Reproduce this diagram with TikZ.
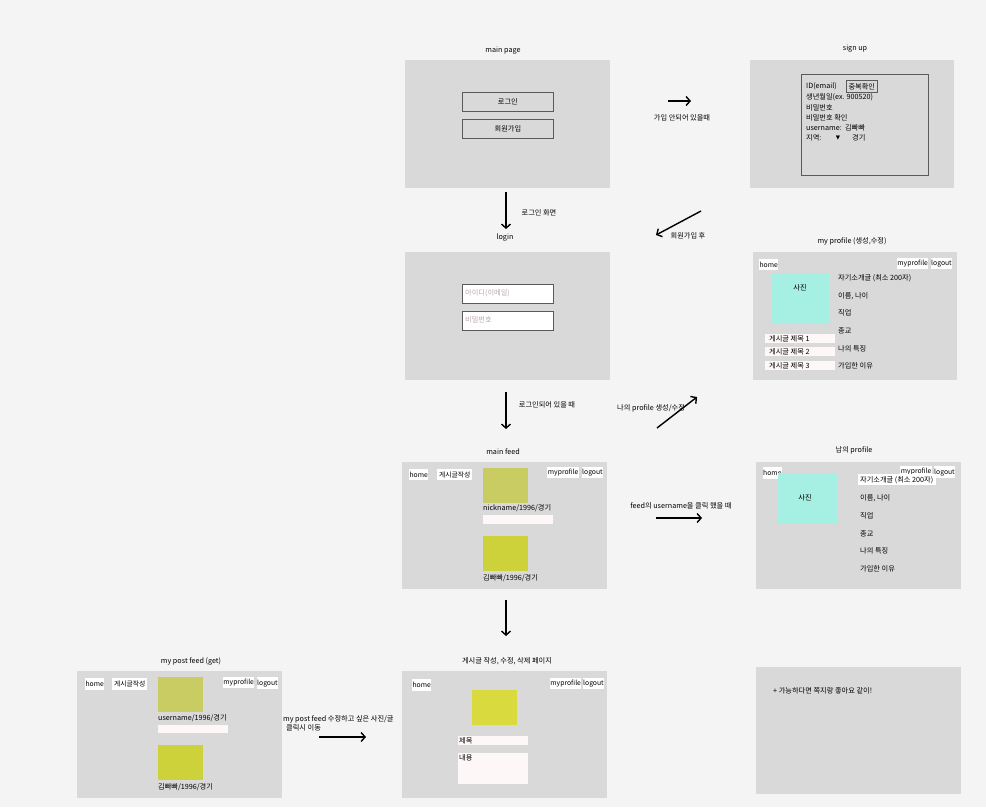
\documentclass[tikz,border=0pt]{standalone}
\usepackage{fontspec}
\setmainfont{Noto Sans CJK KR}
\usetikzlibrary{arrows.meta}
\definecolor{bgc}{HTML}{F4F4F4}
\definecolor{panelc}{HTML}{D9D9D9}
\definecolor{pinkc}{HTML}{FDF7F7}
\definecolor{mintc}{HTML}{A6F0E3}
\definecolor{olivec}{HTML}{C9CC63}
\definecolor{limec}{HTML}{CDD13A}
\definecolor{yellowc}{HTML}{D9DA3E}
\definecolor{edgec}{HTML}{5A5A5A}
\definecolor{phc}{HTML}{BBA8A8}
\tikzset{
  panel/.style={fill=panelc, draw=none, inner sep=0pt, anchor=north west},
  wbox/.style={fill=white, draw=none, inner sep=0pt, anchor=north west, text=black, font=\fontsize{6.8}{8}\selectfont},
  pbox/.style={fill=pinkc, draw=none, inner sep=0pt, anchor=north west},
  btn/.style={fill=panelc, draw=edgec, line width=0.8pt, inner sep=0pt, anchor=north west, minimum width=91, minimum height=19},
  field/.style={fill=white, draw=edgec, line width=0.8pt, inner sep=0pt, anchor=north west, minimum width=91, minimum height=19},
  img/.style={draw=none, inner sep=0pt, anchor=north west},
  lbl/.style={inner sep=0pt, text=black},
  ltxt/.style={inner sep=0pt, anchor=west, text=black},
  arr/.style={-{Straight Barb[length=4pt,width=9pt]}, line width=1.4pt, black},
}
\begin{document}
\begin{tikzpicture}[x=1pt,y=-1pt,font=\fontsize{7.2}{8.5}\selectfont]
\fill[bgc] (0,0) rectangle (986,807);
\useasboundingbox (0,0) rectangle (986,807);

% ===== main page =====
\node[lbl] (tmp) at (503,51) {main page};
\node[panel, minimum width=205, minimum height=128] (mp) at (405,60) {};
\node[btn] (bLogin) at (462,92) {로그인};
\node[btn] (bJoin) at (462,119) {회원가입};

% ===== sign up =====
\node[lbl] (tsu) at (855,49) {sign up};
\node[panel, minimum width=204, minimum height=128] (su) at (750,60) {};
\node[fill=panelc, draw=edgec, line width=0.8pt, inner sep=0pt, anchor=north west, minimum width=127, minimum height=101] (suf) at (801,74) {};
\node[ltxt] (s1) at (806,86) {ID(email)};
\node[fill=panelc, draw=edgec, line width=0.7pt, inner sep=0pt, anchor=north west, minimum width=31, minimum height=12] (dup) at (846,80) {중복확인};
\node[ltxt] (s2) at (806,97.5) {생년월일(ex. 900520)};
\node[ltxt] (s3) at (806,108) {비밀번호};
\node[ltxt] (s4) at (806,118) {비밀번호 확인};
\node[ltxt] (s5) at (806,128) {username:\ \ 김빠빠};
\node[ltxt] (s6) at (806,138) {지역:};
\node[lbl, font=\fontspec{DejaVu Sans}\fontsize{5.5}{7}\selectfont] (s7) at (838,138.5) {▼};
\node[ltxt] (s8) at (852,138) {경기};

% ===== login =====
\node[lbl] (tlg) at (505,238) {login};
\node[panel, minimum width=205, minimum height=128] (lg) at (405,252) {};
\node[field] (fid) at (462,284) {};
\node[ltxt, text=phc] (fidt) at (465,293.5) {아이디(이메일)};
\node[field] (fpw) at (462,311) {};
\node[ltxt, text=phc] (fpwt) at (465,320) {비밀번호};

% ===== my profile =====
\node[lbl] (tpf) at (852,241) {my profile (생성,수정)};
\node[panel, minimum width=204, minimum height=128] (pf) at (753,252) {};
\node[wbox, minimum width=19, minimum height=11] (pfh) at (759,259) {home};
\node[wbox, minimum width=31, minimum height=11] (pfm) at (897,258) {myprofile};
\node[wbox, minimum width=19, minimum height=11] (pfl) at (931,258) {logout};
\node[img, fill=mintc, minimum width=57, minimum height=51] (pfp) at (772,273) {};
\node[lbl] (pfpt) at (800,288) {사진};
\node[ltxt] (pf1) at (838,278) {자기소개글 (최소 200자)};
\node[ltxt] (pf2) at (838,296) {이름, 나이};
\node[ltxt] (pf3) at (838,313) {직업};
\node[ltxt] (pf4) at (838,331) {종교};
\node[ltxt] (pf5) at (838,348.5) {나의 특징};
\node[ltxt] (pf6) at (838,366) {가입한 이유};
\node[pbox, minimum width=70, minimum height=9] (pft1) at (765,334) {};
\node[ltxt] (pft1t) at (769,338.5) {게시글 제목 1};
\node[pbox, minimum width=70, minimum height=9] (pft2) at (765,347) {};
\node[ltxt] (pft2t) at (769,351.5) {게시글 제목 2};
\node[pbox, minimum width=70, minimum height=9] (pft3) at (765,361) {};
\node[ltxt] (pft3t) at (769,365.5) {게시글 제목 3};

% ===== main feed =====
\node[lbl] (tmf) at (503,452) {main feed};
\node[panel, minimum width=205, minimum height=127] (mf) at (402,462) {};
\node[wbox, minimum width=19, minimum height=11] (mfh) at (409,469) {home};
\node[wbox, minimum width=35, minimum height=11] (mfw) at (437,469) {게시글작성};
\node[img, fill=olivec, minimum width=45, minimum height=35] (mfi1) at (483,468) {};
\node[wbox, minimum width=32, minimum height=11] (mfm) at (547,467) {myprofile};
\node[wbox, minimum width=19, minimum height=11] (mfl) at (582,467) {logout};
\node[ltxt] (mfn1) at (483,508) {nickname/1996/경기};
\node[pbox, minimum width=70, minimum height=9] (mfb) at (483,515) {};
\node[img, fill=limec, minimum width=45, minimum height=35] (mfi2) at (483,536) {};
\node[ltxt] (mfn2) at (483,578) {김빠빠/1996/경기};

% ===== other profile =====
\node[lbl] (top) at (854,450) {남의 profile};
\node[panel, minimum width=205, minimum height=127] (op) at (756,462) {};
\node[wbox, minimum width=18, minimum height=12] (oph) at (763,467) {home};
\node[wbox, minimum width=32, minimum height=10] (opm) at (900,466) {myprofile};
\node[wbox, minimum width=19, minimum height=12] (opl) at (934,466) {logout};
\node[img, fill=mintc, minimum width=59, minimum height=51] (opp) at (778,473) {};
\node[lbl] (oppt) at (805,498) {사진};
\node[wbox, minimum width=78, minimum height=11] (op1b) at (858,474) {};
\node[ltxt] (op1) at (860,480) {자기소개글 (최소 200자)};
\node[ltxt] (op2) at (860,498) {이름, 나이};
\node[ltxt] (op3) at (860,516) {직업};
\node[ltxt] (op4) at (860,533.5) {종교};
\node[ltxt] (op5) at (860,551) {나의 특징};
\node[ltxt] (op6) at (860,568.5) {가입한 이유};

% ===== post edit page =====
\node[lbl] (ted) at (507,661) {게시글 작성, 수정, 삭제 페이지};
\node[panel, minimum width=205, minimum height=127] (ed) at (402,671) {};
\node[wbox, minimum width=19, minimum height=12] (edh) at (412,679) {home};
\node[wbox, minimum width=31, minimum height=11] (edm) at (550,678) {myprofile};
\node[wbox, minimum width=19, minimum height=11] (edl) at (583,678) {logout};
\node[img, fill=yellowc, minimum width=45, minimum height=35] (edi) at (472,690) {};
\node[pbox, minimum width=70, minimum height=9] (edt) at (458,736) {};
\node[ltxt] (edtt) at (459,740.5) {제목};
\node[pbox, minimum width=70, minimum height=31] (edc) at (458,753) {};
\node[ltxt] (edct) at (459,758) {내용};

% ===== my post feed =====
\node[lbl] (tpp) at (191,661) {my post feed (get)};
\node[panel, minimum width=205, minimum height=127] (pp) at (77,671) {};
\node[wbox, minimum width=19, minimum height=12] (pph) at (85,678) {home};
\node[wbox, minimum width=35, minimum height=12] (ppw) at (112,678) {게시글작성};
\node[img, fill=olivec, minimum width=45, minimum height=35] (ppi1) at (158,677) {};
\node[wbox, minimum width=31, minimum height=11] (ppm) at (223,677) {myprofile};
\node[wbox, minimum width=19, minimum height=12] (ppl) at (257,677) {logout};
\node[ltxt] (ppn1) at (158,718) {username/1996/경기};
\node[pbox, minimum width=70, minimum height=8] (ppb) at (158,725) {};
\node[img, fill=limec, minimum width=45, minimum height=35] (ppi2) at (158,745) {};
\node[ltxt] (ppn2) at (158,787) {김빠빠/1996/경기};

% ===== extra =====
\node[panel, minimum width=205, minimum height=127] (ex) at (756,667) {};
\node[ltxt] (ext) at (773,691) {+ 가능하다면 쪽지랑 좋아요 같이!};

% ===== arrows and labels =====
\coordinate (a1s) at (668,101); \coordinate (a1e) at (691,101);
\draw[arr] (a1s) -- (a1e);
\node[lbl] (l1) at (682,118) {가입 안되어 있을때};

\coordinate (a2s) at (701,211); \coordinate (a2e) at (656,235);
\draw[arr] (a2s) -- (a2e);
\node[lbl] (l2) at (688,236) {회원가입 후};

\coordinate (a3s) at (506,192); \coordinate (a3e) at (506,229);
\draw[arr] (a3s) -- (a3e);
\node[lbl] (l3) at (539,213) {로그인 화면};

\coordinate (a4s) at (506,392); \coordinate (a4e) at (506,429);
\draw[arr] (a4s) -- (a4e);
\node[lbl] (l4) at (547,405) {로그인되어 있을 때};

\coordinate (a5s) at (657,428); \coordinate (a5e) at (697,397);
\draw[arr] (a5s) -- (a5e);
\node[ltxt] (l5) at (617,408) {나의 profile 생성/수정};

\coordinate (a6s) at (656,518); \coordinate (a6e) at (702,518);
\draw[arr] (a6s) -- (a6e);
\node[lbl] (l6) at (681,505.5) {feed의 username을 클릭 했을 때};

\coordinate (a7s) at (506,600); \coordinate (a7e) at (506,636);
\draw[arr] (a7s) -- (a7e);

\coordinate (a8s) at (319,737); \coordinate (a8e) at (366,737);
\draw[arr] (a8s) -- (a8e);
\node[ltxt] (l8a) at (283,719) {my post feed 수정하고 싶은 사진/글};
\node[ltxt] (l8b) at (286,728) {클릭시 이동};
\end{tikzpicture}
\end{document}
